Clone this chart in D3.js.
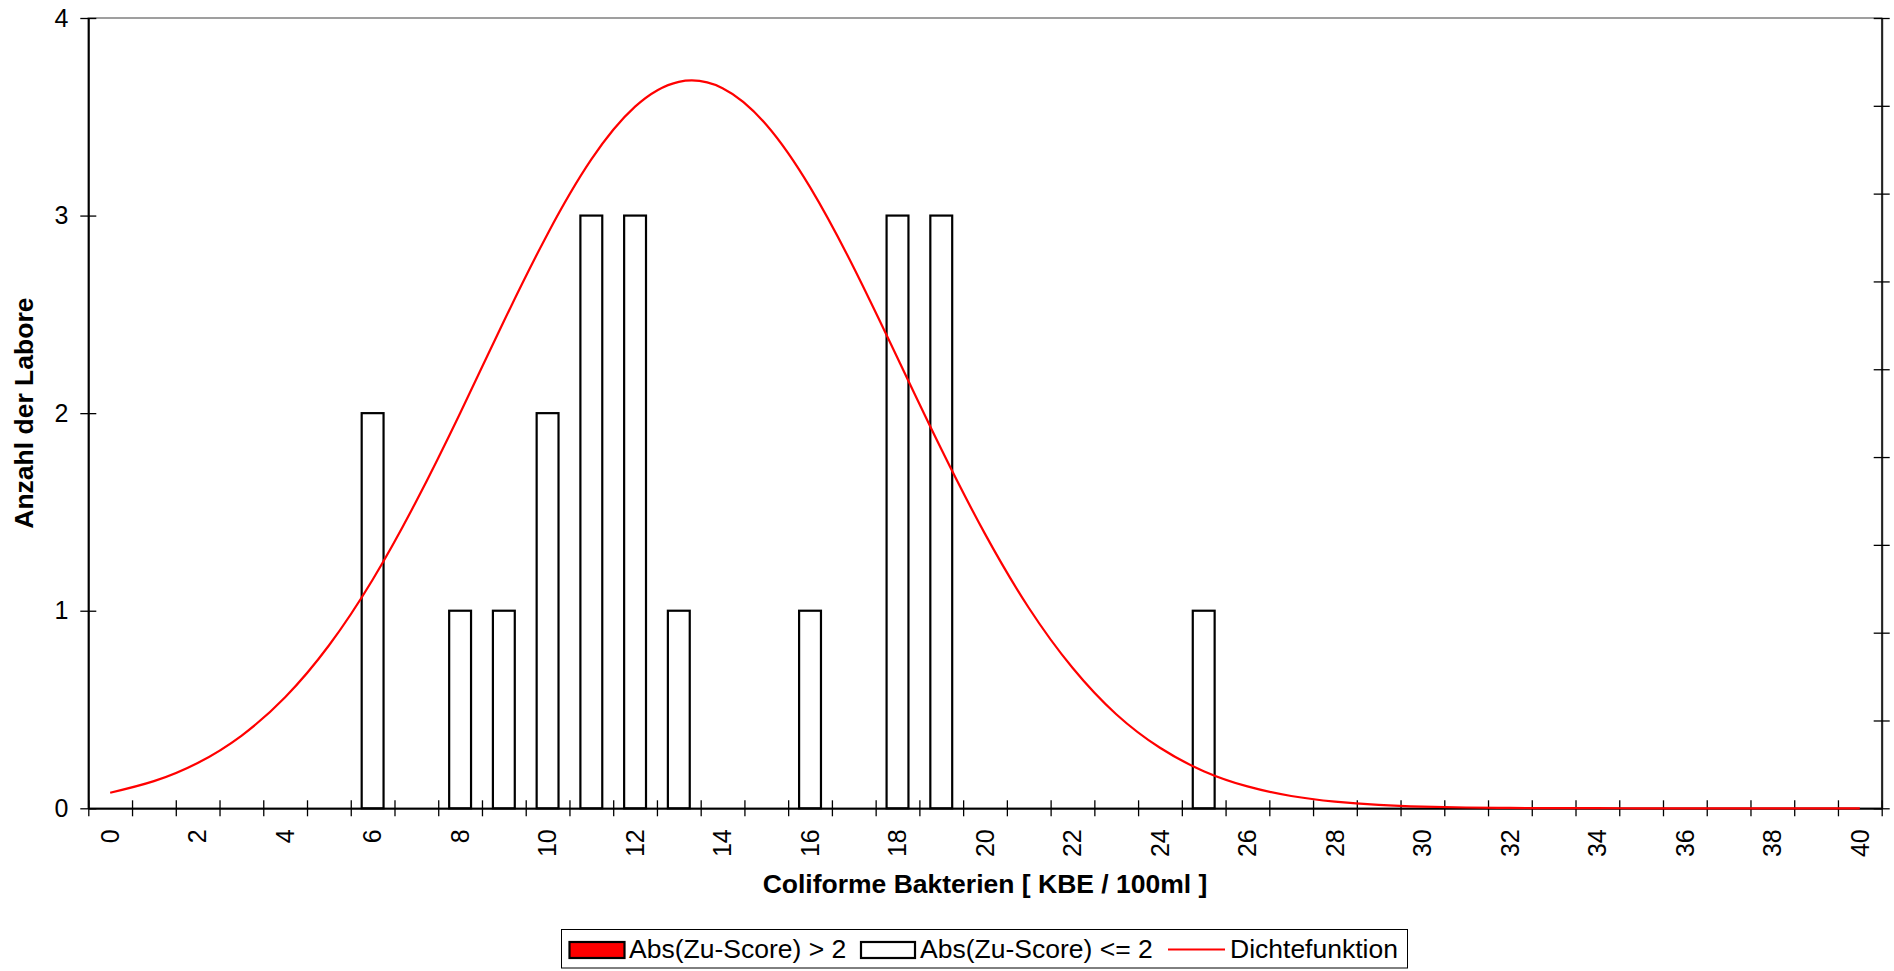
<!DOCTYPE html>
<html>
<head>
<meta charset="utf-8">
<script src="https://cdn.jsdelivr.net/npm/d3@7"></script>
<style>
  html, body { margin: 0; padding: 0; background: #fff; }
  svg { display: block; }
  text { font-family: "Liberation Sans", Arial, sans-serif; fill: #000; }
</style>
</head>
<body>
<svg id="chart" width="1894" height="971"></svg>
<script>
// ---------- DATA ----------
const categories = d3.range(0, 41);           // KBE / 100ml classes 0..40
const xTickLabels = d3.range(0, 41, 2);       // labelled categories
const yTickLabels = [0, 1, 2, 3, 4];
const densityTicks = [0, 0.01, 0.02, 0.03, 0.04, 0.05, 0.06, 0.07, 0.08, 0.09];

// Number of labs per class, |Zu-Score| > 2 (red) and <= 2 (white)
const countsAbove2 = [0,0,0,0,0,0,0,0,0,0,0,0,0,0,0,0,0,0,0,0,0,0,0,0,0,0,0,0,0,0,0,0,0,0,0,0,0,0,0,0,0];
const countsWithin2 = [0,0,0,0,0,0,2,0,1,1,2,3,3,1,0,0,1,0,3,3,0,0,0,0,0,1,0,0,0,0,0,0,0,0,0,0,0,0,0,0,0];

// Density function (secondary axis, 0 .. 0.09), read per class
const density = [0.00177,0.00309,0.00516,0.00826,0.01265,0.01854,0.02603,0.03499,0.04500,0.05546,
                 0.06541,0.07389,0.07990,0.08273,0.08201,0.07785,0.07074,0.06156,0.05128,0.04091,
                 0.03125,0.02284,0.01600,0.01071,0.00689,0.00423,0.00249,0.00140,0.00076,0.00039,
                 0.00019,0.00009,0.00004,0.00002,0.00001,0,0,0,0,0,0];

const xTitle = "Coliforme Bakterien [ KBE / 100ml ]";
const yTitle = "Anzahl der Labore";
const legendLabels = ["Abs(Zu-Score) > 2", "Abs(Zu-Score) <= 2", "Dichtefunktion"];

// ---------- LAYOUT ----------
const L = 88.3, R = 1881.7, T = 18, B = 808.3;
const svg = d3.select("#chart");

const x = d3.scaleBand().domain(categories).range([L, R]).paddingInner(0).paddingOuter(0);
const xEdge = d3.scaleLinear().domain([0, categories.length]).range([L, R]);
const y = d3.scaleLinear().domain([0, 4]).range([B, T]);
const y2 = d3.scaleLinear().domain([0, 0.09]).range([B, T]);

// plot area border
svg.append("rect")
  .attr("x", L).attr("y", T).attr("width", R - L).attr("height", B - T)
  .attr("fill", "#fff").attr("stroke", "#808080").attr("stroke-width", 1.5);

// bars
const bw = x.bandwidth();
const barData = categories.map((c, i) => ({c, a: countsAbove2[i], w: countsWithin2[i]}));
svg.append("g").selectAll("rect.w")
  .data(barData.filter(d => d.w > 0)).join("rect")
  .attr("x", d => x(d.c) + bw / 4).attr("width", bw / 2)
  .attr("y", d => y(d.w)).attr("height", d => y(0) - y(d.w))
  .attr("fill", "#fff").attr("stroke", "#000").attr("stroke-width", 2.2);
svg.append("g").selectAll("rect.a")
  .data(barData.filter(d => d.a > 0)).join("rect")
  .attr("x", d => x(d.c) + bw / 4).attr("width", bw / 2)
  .attr("y", d => y(d.a)).attr("height", d => y(0) - y(d.a))
  .attr("fill", "#ff0000").attr("stroke", "#000").attr("stroke-width", 2.2);

// axes
const fontTick = "25px";
// left axis
const gy = svg.append("g").attr("transform", `translate(${L},0)`)
  .call(d3.axisLeft(y).tickValues(yTickLabels).tickFormat(d3.format("d")).tickSize(8).tickSizeOuter(0).tickPadding(12));
gy.select(".domain").attr("stroke", "#000").attr("stroke-width", 2);
gy.selectAll(".tick line").attr("x1", 8).attr("stroke", "#000").attr("stroke-width", 1.3);
gy.selectAll(".tick text").attr("font-size", fontTick).attr("font-family", '"Liberation Sans", Arial, sans-serif');

// right (density) axis, unlabeled
const gy2 = svg.append("g").attr("transform", `translate(${R},0)`)
  .call(d3.axisRight(y2).tickValues(densityTicks).tickFormat("").tickSize(8).tickSizeOuter(0));
gy2.select(".domain").attr("stroke", "#222").attr("stroke-width", 2);
gy2.selectAll(".tick line").attr("x1", -8).attr("stroke", "#000").attr("stroke-width", 1.3);

// bottom axis: tick marks on class boundaries
const gxTicks = svg.append("g").attr("transform", `translate(0,${B})`)
  .call(d3.axisBottom(xEdge).tickValues(d3.range(0, categories.length + 1)).tickFormat("").tickSize(8).tickSizeOuter(0));
gxTicks.select(".domain").attr("stroke", "#000").attr("stroke-width", 2);
gxTicks.selectAll(".tick line").attr("y1", -8).attr("stroke", "#000").attr("stroke-width", 1.3);

// bottom axis labels at class centres, rotated
const gx = svg.append("g").attr("transform", `translate(0,${B})`)
  .call(d3.axisBottom(x).tickValues(xTickLabels).tickSize(0).tickPadding(0));
gx.select(".domain").remove();
gx.selectAll(".tick text")
  .attr("font-size", fontTick).attr("font-family", '"Liberation Sans", Arial, sans-serif')
  .attr("transform", "rotate(-90)")
  .attr("text-anchor", "end")
  .attr("x", -21).attr("y", 0).attr("dy", "0.35em");

// density line
const line = d3.line()
  .x((d, i) => x(categories[i]) + bw / 2)
  .y(d => y2(d))
  .curve(d3.curveNatural);
svg.append("path").datum(density)
  .attr("d", line).attr("fill", "none").attr("stroke", "#ff0000").attr("stroke-width", 2.2);

// axis titles
svg.append("text").attr("x", (L + R) / 2).attr("y", 893)
  .attr("text-anchor", "middle").attr("font-size", "26.5px").attr("font-weight", "bold").text(xTitle);
svg.append("text").attr("transform", `translate(33,${(T + B) / 2}) rotate(-90)`)
  .attr("text-anchor", "middle").attr("font-size", "26.5px").attr("font-weight", "bold").text(yTitle);

// legend
const lg = svg.append("g");
lg.append("rect").attr("x", 561.5).attr("y", 929.5).attr("width", 846).attr("height", 38.5)
  .attr("fill", "#fff").attr("stroke", "#000").attr("stroke-width", 1);
lg.append("rect").attr("x", 569.5).attr("y", 942).attr("width", 55).attr("height", 16)
  .attr("fill", "#ff0000").attr("stroke", "#000").attr("stroke-width", 2.2);
lg.append("text").attr("x", 629).attr("y", 958).attr("font-size", "26.5px").text(legendLabels[0]);
lg.append("rect").attr("x", 861).attr("y", 942).attr("width", 54).attr("height", 16)
  .attr("fill", "#fff").attr("stroke", "#000").attr("stroke-width", 2.2);
lg.append("text").attr("x", 920).attr("y", 958).attr("font-size", "26.5px").text(legendLabels[1]);
lg.append("line").attr("x1", 1168).attr("x2", 1225).attr("y1", 949.5).attr("y2", 949.5)
  .attr("stroke", "#ff0000").attr("stroke-width", 2.2);
lg.append("text").attr("x", 1230).attr("y", 958).attr("font-size", "26.5px").text(legendLabels[2]);
</script>
</body>
</html>
